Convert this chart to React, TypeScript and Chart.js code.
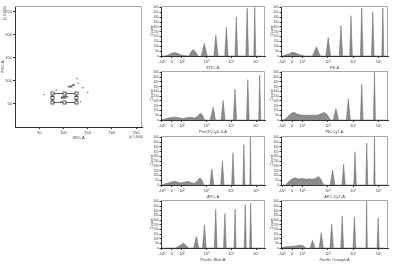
import React, { useEffect, useRef } from "react";
import { Chart, registerables } from "chart.js";
Chart.register(...registerables);

const FONT = "'Liberation Sans', Arial, sans-serif";

// ---------- scatter (FSC-A vs SSC-A, x 1,000) ----------
const scatterX = [112, 115, 118, 120, 121, 117, 114, 122, 110, 96, 100, 103, 105, 99, 102, 107, 130, 140, 85, 95, 150, 60, 128, 135];
const scatterY = [88, 89, 90, 91, 92, 87, 86, 90, 87, 64, 65, 66, 67, 63, 64, 66, 95, 85, 80, 55, 75, 70, 105, 55];
const scatterTicks = [50, 100, 150, 200, 250];
const gateX = [76, 125];
const gateY = [54, 74];
const gateLabel = "8BP";

// ---------- histograms ----------
const histTickPos = [1.2, 1.6, 2, 3, 4, 5];
const histTickLabels = ["-10²", "0", "10²", "10³", "10⁴", "10⁵"];
const countTicks = [0, 50, 100, 150, 200, 250, 300, 350, 400, 450, 500];

const fitcU = [1.173, 1.307, 1.44, 1.573, 1.707, 1.84, 1.973, 2.107, 2.28, 2.373, 2.453, 2.547, 2.653, 2.787, 2.907, 3.027, 3.293, 3.373, 3.467, 3.733, 3.8, 3.867, 4.147, 4.2, 4.253, 4.587, 4.64, 4.693, 4.907, 4.947, 4.987, 5.24];
const fitcCount = [0, 0, 10, 25, 35, 25, 10, 5, 0, 40, 68, 45, 0, 0, 130, 0, 0, 215, 0, 0, 295, 0, 0, 405, 0, 0, 495, 0, 0, 500, 0, 0];

const peU = [1.211, 1.342, 1.474, 1.605, 1.737, 1.868, 2.0, 2.132, 2.395, 2.474, 2.553, 2.632, 2.711, 2.921, 3.013, 3.105, 3.447, 3.513, 3.579, 3.855, 3.908, 3.961, 4.276, 4.329, 4.382, 4.711, 4.763, 4.816, 5.118, 5.158, 5.197, 5.355];
const peCount = [0, 10, 20, 38, 30, 15, 5, 0, 0, 50, 95, 40, 0, 0, 190, 0, 0, 315, 0, 0, 415, 0, 0, 495, 0, 0, 450, 0, 0, 495, 0, 0];

const percpU = [1.173, 1.373, 1.573, 1.707, 1.84, 2.04, 2.24, 2.373, 2.507, 2.64, 2.747, 2.84, 2.92, 3.147, 3.267, 3.36, 3.587, 3.667, 3.747, 4.08, 4.147, 4.213, 4.613, 4.667, 4.72, 5.107, 5.147, 5.187, 5.307];
const percpCount = [0, 15, 25, 30, 25, 15, 25, 30, 20, 40, 70, 50, 0, 0, 135, 0, 0, 205, 0, 0, 325, 0, 0, 425, 0, 0, 470, 0, 0];

const pecy7U = [1.211, 1.342, 1.474, 1.605, 1.697, 1.803, 2.0, 2.197, 2.395, 2.592, 2.724, 2.855, 2.961, 3.053, 3.118, 3.211, 3.316, 3.421, 3.724, 3.803, 3.882, 4.276, 4.329, 4.382, 4.789, 4.829, 4.868, 5.355];
const pecy7Count = [0, 10, 50, 75, 80, 60, 50, 50, 50, 50, 65, 80, 60, 20, 0, 0, 120, 0, 0, 220, 0, 0, 380, 0, 0, 500, 0, 0];

const apcU = [1.173, 1.373, 1.573, 1.707, 1.84, 1.973, 2.107, 2.24, 2.373, 2.507, 2.64, 2.733, 2.813, 2.893, 3.133, 3.213, 3.293, 3.573, 3.64, 3.707, 4.013, 4.067, 4.12, 4.467, 4.507, 4.547, 4.747, 4.773, 4.8, 5.307];
const apcCount = [0, 15, 30, 40, 30, 20, 30, 40, 25, 15, 50, 75, 50, 0, 0, 170, 0, 0, 250, 0, 0, 340, 0, 0, 425, 0, 0, 510, 0, 0];

const apccy7U = [1.211, 1.342, 1.474, 1.605, 1.737, 1.868, 2.0, 2.132, 2.263, 2.395, 2.526, 2.632, 2.724, 2.803, 2.855, 3.092, 3.184, 3.276, 3.553, 3.618, 3.684, 4.013, 4.066, 4.118, 4.487, 4.526, 4.566, 4.803, 4.829, 4.855, 5.355];
const apccy7Count = [0, 0, 40, 65, 75, 60, 70, 60, 65, 60, 70, 90, 60, 15, 0, 0, 155, 0, 0, 215, 0, 0, 350, 0, 0, 440, 0, 0, 500, 0, 0];

const pbU = [1.17, 1.726, 1.863, 2.0, 2.068, 2.164, 2.274, 2.479, 2.589, 2.685, 2.836, 2.918, 2.986, 3.315, 3.37, 3.425, 3.685, 3.74, 3.795, 4.11, 4.151, 4.192, 4.521, 4.562, 4.603, 4.74, 4.781, 4.822, 5.288];
const pbCount = [0, 0, 15, 40, 50, 30, 0, 0, 125, 0, 0, 250, 0, 0, 415, 0, 0, 370, 0, 0, 415, 0, 0, 465, 0, 0, 480, 0, 0];

const poU = [1.17, 1.274, 1.479, 1.685, 1.89, 2.027, 2.137, 2.301, 2.397, 2.493, 2.658, 2.74, 2.822, 3.082, 3.151, 3.219, 3.507, 3.562, 3.616, 3.986, 4.041, 4.096, 4.493, 4.521, 4.548, 4.932, 4.973, 5.014, 5.247];
const poCount = [0, 10, 15, 20, 30, 25, 0, 0, 80, 0, 0, 165, 0, 0, 255, 0, 0, 345, 0, 0, 335, 0, 0, 510, 0, 0, 325, 0, 0];

const histLabels = ["FITC-A", "PE-A", "PerCP-Cy5-5-A", "PE-Cy7-A", "APC-A", "APC-Cy7-A", "Pacific Blue-A", "Pacific Orange-A"];
const histU = [fitcU, peU, percpU, pecy7U, apcU, apccy7U, pbU, poU];
const histCount = [fitcCount, peCount, percpCount, pecy7Count, apcCount, apccy7Count, pbCount, poCount];

// layout (pixels)
const colLeft = [161, 281];
const colWidth = [104, 107];
const rowTop = [6, 71, 136, 200];
const rowHeight = [50, 49, 49, 48];

const AXIS = "#333";
const TXT = "#444";

const framePlugin = {
  id: "frame",
  afterDraw(chart: any) {
    const { ctx, chartArea: a } = chart;
    ctx.save();
    ctx.strokeStyle = "#a8a8a8";
    ctx.lineWidth = 1;
    ctx.beginPath();
    ctx.moveTo(a.left, a.top + 0.5);
    ctx.lineTo(a.right - 0.5, a.top + 0.5);
    ctx.lineTo(a.right - 0.5, a.bottom);
    ctx.stroke();
    ctx.restore();
  },
};

const gatePlugin = {
  id: "gate",
  afterDatasetsDraw(chart: any) {
    const { ctx, scales } = chart;
    const x0 = Math.round(scales.x.getPixelForValue(gateX[0])) + 0.5;
    const x1 = Math.round(scales.x.getPixelForValue(gateX[1])) + 0.5;
    const y0 = Math.round(scales.y.getPixelForValue(gateY[1])) + 0.5;
    const y1 = Math.round(scales.y.getPixelForValue(gateY[0])) + 0.5;
    ctx.save();
    ctx.strokeStyle = "#333";
    ctx.lineWidth = 0.8;
    ctx.strokeRect(x0, y0, x1 - x0, y1 - y0);
    const xm = (x0 + x1) / 2;
    const ym = (y0 + y1) / 2;
    const pts = [[x0, y0], [xm, y0], [x1, y0], [x1, ym], [x1, y1], [xm, y1], [x0, y1], [x0, ym]];
    ctx.fillStyle = "#fff";
    for (const [px, py] of pts) {
      ctx.fillRect(px - 1.5, py - 1.5, 3, 3);
      ctx.strokeRect(px - 1.5, py - 1.5, 3, 3);
    }
    ctx.fillStyle = "#333";
    ctx.font = `4px ${FONT}`;
    ctx.textAlign = "center";
    ctx.textBaseline = "middle";
    ctx.fillText(gateLabel, xm, ym);
    ctx.restore();
  },
};

const unitPlugin = {
  id: "units",
  afterDraw(chart: any) {
    const { ctx, chartArea: a } = chart;
    ctx.save();
    ctx.fillStyle = TXT;
    ctx.font = `3.5px ${FONT}`;
    ctx.textBaseline = "middle";
    ctx.save();
    ctx.translate(5, a.top + 7);
    ctx.rotate(-Math.PI / 2);
    ctx.textAlign = "center";
    ctx.fillText("(x 1,000)", 0, 0);
    ctx.restore();
    ctx.textAlign = "right";
    ctx.fillText("(x 1,000)", a.right + 1, a.bottom + 10);
    ctx.restore();
  },
};

function ChartBox(props: { left: number; top: number; width: number; height: number; make: () => any }) {
  const ref = useRef<HTMLCanvasElement>(null);
  useEffect(() => {
    const chart = new Chart(ref.current as HTMLCanvasElement, props.make());
    return () => chart.destroy();
  }, []);
  return (
    <canvas
      ref={ref}
      width={props.width}
      height={props.height}
      style={{ position: "absolute", left: props.left, top: props.top, width: props.width, height: props.height }}
    />
  );
}

function makeScatter() {
  return {
    type: "scatter",
    data: {
      datasets: [
        {
          data: scatterX.map((x, i) => ({ x, y: scatterY[i] })),
          pointRadius: 0.7,
          pointBorderWidth: 0,
          backgroundColor: "#555",
        },
      ],
    },
    options: {
      responsive: false,
      animation: false,
      devicePixelRatio: 1,
      layout: { padding: { top: 6, right: 3, left: 0, bottom: 0 } },
      plugins: { legend: { display: false }, tooltip: { enabled: false } },
      scales: {
        x: {
          type: "linear",
          min: 0,
          max: 262,
          afterFit: (s: any) => { s.height = 13; },
          afterBuildTicks: (s: any) => { s.ticks = scatterTicks.map((v) => ({ value: v })); },
          ticks: { font: { family: FONT, size: 4 }, color: TXT, padding: 1, maxRotation: 0, autoSkip: false },
          grid: { drawOnChartArea: false, tickLength: 2, color: AXIS },
          border: { color: AXIS },
          title: { display: true, text: "SSC-A", font: { family: FONT, size: 4 }, color: TXT, padding: 0 },
        },
        y: {
          type: "linear",
          min: 0,
          max: 262,
          afterFit: (s: any) => { s.width = 15; },
          afterBuildTicks: (s: any) => { s.ticks = scatterTicks.map((v) => ({ value: v })); },
          ticks: { font: { family: FONT, size: 4 }, color: TXT, padding: 1, autoSkip: false },
          grid: { drawOnChartArea: false, tickLength: 2, color: AXIS },
          border: { color: AXIS },
          title: { display: true, text: "FSC-A", font: { family: FONT, size: 4 }, color: TXT, padding: 0 },
        },
      },
    },
    plugins: [framePlugin, gatePlugin, unitPlugin],
  };
}

function makeHist(i: number) {
  return () => ({
    type: "line",
    data: {
      datasets: [
        {
          data: histU[i].map((u, k) => ({ x: u, y: histCount[i][k] })),
          fill: "origin",
          backgroundColor: "#8c8c8c",
          borderColor: "#666",
          borderWidth: 0.5,
          pointRadius: 0,
          tension: 0,
        },
      ],
    },
    options: {
      responsive: false,
      animation: false,
      devicePixelRatio: 1,
      layout: { padding: { top: 4, right: 3, left: 0, bottom: 0 } },
      plugins: { legend: { display: false }, tooltip: { enabled: false } },
      scales: {
        x: {
          type: "linear",
          min: 1.16,
          max: 5.36,
          afterFit: (s: any) => { s.height = 14; },
          afterBuildTicks: (s: any) => { s.ticks = histTickPos.map((v) => ({ value: v })); },
          ticks: {
            font: { family: FONT, size: 4 },
            color: TXT,
            padding: 1,
            maxRotation: 0,
            autoSkip: false,
            callback: (_v: any, idx: number) => histTickLabels[idx],
          },
          grid: { drawOnChartArea: false, tickLength: 2, color: AXIS },
          border: { color: AXIS },
          title: { display: true, text: histLabels[i], font: { family: FONT, size: 4 }, color: TXT, padding: 0 },
        },
        y: {
          type: "linear",
          min: 0,
          max: 515,
          afterFit: (s: any) => { s.width = 12; },
          afterBuildTicks: (s: any) => { s.ticks = countTicks.map((v) => ({ value: v })); },
          ticks: { font: { family: FONT, size: 3 }, color: TXT, padding: 1, autoSkip: false },
          grid: { drawOnChartArea: false, tickLength: 1.5, color: AXIS },
          border: { color: AXIS },
          title: { display: true, text: "Count", font: { family: FONT, size: 4 }, color: TXT, padding: 0 },
        },
      },
    },
    plugins: [framePlugin],
  });
}

export default function App() {
  const boxes = histLabels.map((_, i) => {
    const c = i % 2;
    const r = Math.floor(i / 2);
    const left = colLeft[c] - 12;
    const top = rowTop[r] - 4;
    const width = 12 + colWidth[c] + 3;
    const height = 4 + rowHeight[r] + 14;
    return <ChartBox key={i} left={left} top={top} width={width} height={height} make={makeHist(i)} />;
  });
  return (
    <div style={{ position: "fixed", left: 0, top: 0, width: 400, height: 265, background: "#fff", overflow: "hidden" }}>
      <ChartBox left={0} top={0} width={146} height={140} make={makeScatter} />
      {boxes}
    </div>
  );
}
